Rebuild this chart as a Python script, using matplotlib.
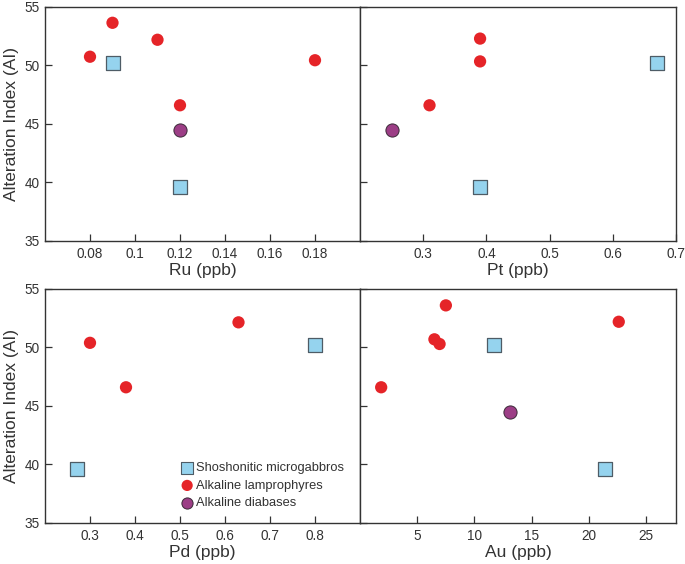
import matplotlib
matplotlib.use("Agg")
import matplotlib.pyplot as plt

plt.rcParams["font.family"] = ["Liberation Sans", "DejaVu Sans"]

# --- data ---
# Shoshonitic microgabbros
sho_ai = [50.2, 39.6]
sho_ru = [0.09, 0.12]
sho_pt = [0.67, 0.39]
sho_pd = [0.80, 0.27]
sho_au = [11.7, 21.4]

# Alkaline lamprophyres
lam_ru = [0.08, 0.09, 0.11, 0.18, 0.12]
lam_ru_ai = [50.75, 53.65, 52.2, 50.45, 46.6]
lam_pt = [0.39, 0.39, 0.31]
lam_pt_ai = [52.3, 50.35, 46.6]
lam_pd = [0.30, 0.38, 0.63]
lam_pd_ai = [50.4, 46.6, 52.15]
lam_au = [7.5, 22.6, 6.5, 6.95, 1.85]
lam_au_ai = [53.6, 52.2, 50.7, 50.3, 46.6]

# Alkaline diabases
dia_ru = [0.12]
dia_pt = [0.25]
dia_au = [13.1]
dia_ai = [44.45]

red = "#e52428"
blue = "#95d3ee"
purple = "#9c3e86"
edge = "#4e5c66"

fig = plt.figure(figsize=(6.85, 5.64), dpi=100)

boxes = [
    [45 / 685, 1 - 241 / 564, 315 / 685, 234 / 564],
    [360 / 685, 1 - 241 / 564, 316 / 685, 234 / 564],
    [45 / 685, 1 - 523 / 564, 315 / 685, 234 / 564],
    [360 / 685, 1 - 523 / 564, 316 / 685, 234 / 564],
]
axs = [fig.add_axes(b) for b in boxes]


def scatter_sets(ax, sho_x, lam_x, lam_y, dia_x):
    ax.scatter(lam_x, lam_y, s=78, color=red, edgecolors="none", zorder=3,
               label="Alkaline lamprophyres")
    if dia_x:
        ax.scatter(dia_x, dia_ai, s=90, color=purple, edgecolors="#3b2a38",
                   linewidths=0.7, zorder=3, label="Alkaline diabases")
    ax.scatter(sho_x, sho_ai, s=88, marker="s", color=blue, edgecolors=edge,
               linewidths=0.9, zorder=3, label="Shoshonitic microgabbros")


scatter_sets(axs[0], sho_ru, lam_ru, lam_ru_ai, dia_ru)
scatter_sets(axs[1], sho_pt, lam_pt, lam_pt_ai, dia_pt)
scatter_sets(axs[2], sho_pd, lam_pd, lam_pd_ai, [])
scatter_sets(axs[3], sho_au, lam_au, lam_au_ai, dia_au)

axs[0].set_xlim(0.06, 0.2)
axs[0].set_xticks([0.08, 0.1, 0.12, 0.14, 0.16, 0.18])
axs[0].set_xticklabels(["0.08", "0.1", "0.12", "0.14", "0.16", "0.18"])
axs[1].set_xlim(0.2, 0.7)
axs[1].set_xticks([0.3, 0.4, 0.5, 0.6, 0.7])
axs[2].set_xlim(0.2, 0.9)
axs[2].set_xticks([0.3, 0.4, 0.5, 0.6, 0.7, 0.8])
axs[3].set_xlim(0, 27.6)
axs[3].set_xticks([5, 10, 15, 20, 25])

xlabels = ["Ru (ppb)", "Pt (ppb)", "Pd (ppb)", "Au (ppb)"]
for i, ax in enumerate(axs):
    ax.set_ylim(35, 55)
    ax.set_yticks([35, 40, 45, 50, 55])
    ax.tick_params(direction="in", length=5, width=0.9, color="#333333",
                   labelsize=9.8, labelcolor="#333333", pad=4)
    for sp in ax.spines.values():
        sp.set_linewidth(1.0)
        sp.set_color("#333333")
    ax.set_xlabel(xlabels[i], fontsize=12.5, color="#333333", labelpad=2)
    if i % 2 == 0:
        ax.set_ylabel("Alteration Index (AI)", fontsize=12.5, color="#333333",
                      labelpad=4)
    else:
        ax.tick_params(labelleft=False)

# legend built with the same three styles
h_sho = axs[2].scatter([], [], s=75, marker="s", color=blue, edgecolors=edge,
                       linewidths=0.8)
h_lam = axs[2].scatter([], [], s=65, color=red, edgecolors="none")
h_dia = axs[2].scatter([], [], s=65, color=purple, edgecolors="#3b2a38",
                       linewidths=0.7)
axs[2].legend([h_sho, h_lam, h_dia],
              ["Shoshonitic microgabbros", "Alkaline lamprophyres",
               "Alkaline diabases"],
              loc="lower left", bbox_to_anchor=(0.40, 0.02), frameon=False,
              fontsize=9.3, handletextpad=0.15, labelspacing=0.42,
              borderpad=0.2, handlelength=1.1, labelcolor="#333333")

fig.savefig("out.png", dpi=100)
